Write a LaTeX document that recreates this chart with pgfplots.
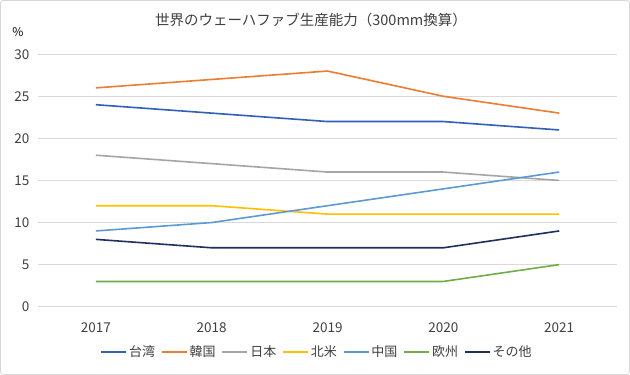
\documentclass[border=0pt]{standalone}
\usepackage{fontspec}
\setmainfont{Noto Sans CJK JP}
\usepackage{pgfplots}
\pgfplotsset{compat=1.18}
\definecolor{cTW}{HTML}{3060B8}
\definecolor{cKR}{HTML}{ED7D31}
\definecolor{cJP}{HTML}{A5A5A5}
\definecolor{cNA}{HTML}{FFC000}
\definecolor{cCN}{HTML}{5B9BD5}
\definecolor{cEU}{HTML}{70AD47}
\definecolor{cOT}{HTML}{1F2F60}
\definecolor{gridc}{HTML}{D9D9D9}
\definecolor{txt}{HTML}{404040}
\begin{document}
\begin{tikzpicture}[x=1bp,y=1bp]
\draw[gridc, line width=0.8bp, rounded corners=3bp, fill=white] (0.5,0.5) rectangle (629.5,374.5);
\node[text=txt, font=\fontsize{14.5bp}{16bp}\selectfont] at (311,355) {世界のウェーハファブ生産能力（300mm換算）};
\node[text=black, font=\fontsize{12bp}{14bp}\selectfont] at (18,343) {\%};
\begin{axis}[
  at={(38bp,68.3bp)}, anchor=south west,
  scale only axis, width=579bp, height=252.4bp,
  xmin=-0.5, xmax=4.5, ymin=0, ymax=30,
  xtick={0,1,2,3,4}, xticklabels={2017,2018,2019,2020,2021},
  ytick={0,5,...,30},
  ymajorgrids, grid style={gridc, line width=0.9bp},
  axis line style={draw=none},
  major tick length=0pt,
  /pgf/number format/assume math mode=true,
  tick label style={text=txt, font=\fontsize{13.5bp}{15bp}\selectfont},
  xticklabel style={yshift=-12bp},
  yticklabel style={xshift=-5bp},
  every axis plot/.append style={line width=1.6bp, mark=none},
  legend columns=7,
  legend style={at={(axis description cs:0.482,-0.18)}, anchor=center, draw=none, fill=none,
    font=\fontsize{13bp}{15bp}\selectfont, text=txt,
    /tikz/every even column/.append style={column sep=4bp},
    /tikz/every odd column/.append style={inner xsep=1bp}},
  legend image code/.code={\draw[#1] (0bp,0bp) -- (25bp,0bp);},
]
\addplot[cTW] coordinates {(0,24) (1,23) (2,22) (3,22) (4,21)};
\addlegendentry{台湾}
\addplot[cKR] coordinates {(0,26) (1,27) (2,28) (3,25) (4,23)};
\addlegendentry{韓国}
\addplot[cJP] coordinates {(0,18) (1,17) (2,16) (3,16) (4,15)};
\addlegendentry{日本}
\addplot[cNA] coordinates {(0,12) (1,12) (2,11) (3,11) (4,11)};
\addlegendentry{北米}
\addplot[cCN] coordinates {(0,9) (1,10) (2,12) (3,14) (4,16)};
\addlegendentry{中国}
\addplot[cEU] coordinates {(0,3) (1,3) (2,3) (3,3) (4,5)};
\addlegendentry{欧州}
\addplot[cOT] coordinates {(0,8) (1,7) (2,7) (3,7) (4,9)};
\addlegendentry{その他}
\end{axis}
\end{tikzpicture}
\end{document}
